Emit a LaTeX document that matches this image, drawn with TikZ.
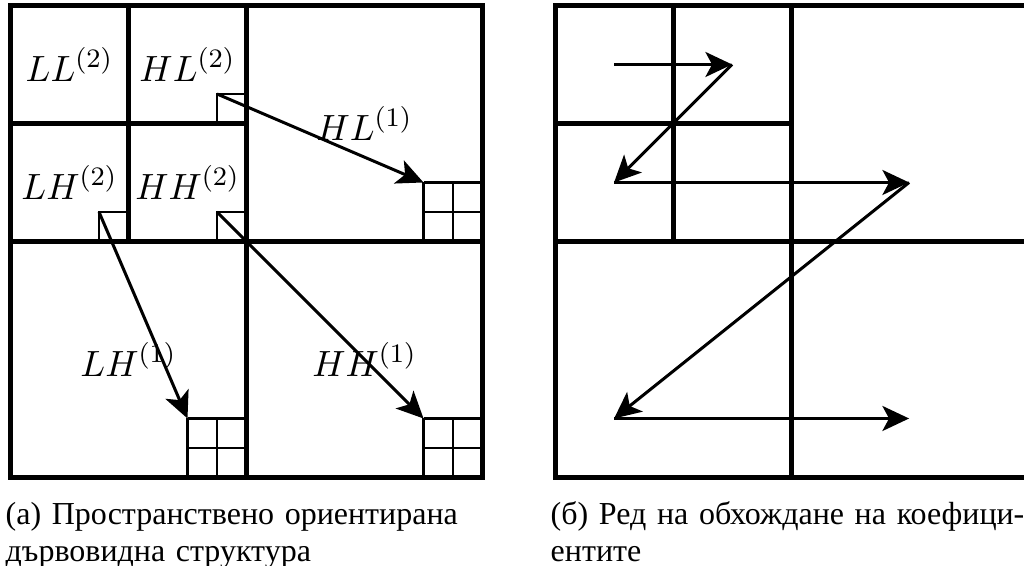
\documentclass[tikz,border=0pt]{standalone}
\usepackage{amsmath,amssymb}
\usepackage{fontspec}
\newfontfamily\cyrfont{Liberation Serif}
\usepackage{tikz}
\usetikzlibrary{arrows.meta,positioning}
\newcommand{\capfont}{\cyrfont\fontsize{9.6}{11}\selectfont}
\newcommand{\capwd}{144.6pt}

\begin{document}
\begin{tikzpicture}[x=8.85pt,y=8.85pt,>={Stealth[length=8pt,width=7.5pt,inset=2pt]},
  band/.style={line width=1.5pt},
  cellbox/.style={line width=0.8pt},
  scan/.style={->,line width=0.9pt},
  lbl/.style={font=\fontsize{11}{13}\selectfont,inner sep=0pt},
  capnode/.style={anchor=base west,inner sep=0pt,text width=\capwd,align=left,font=\capfont}]
\useasboundingbox (-0.356,-3.0) rectangle (34.356,16.186);
% coefficient boxes and 2x2 blocks
\draw[cellbox] (7,12) rectangle (8,13) (3,8) rectangle (4,9) (7,8) rectangle (8,9);
\foreach \gx/\gy in {14/8,6/0,14/0}
  \draw[cellbox,step=1] (\gx,\gy) grid +(2,2);
% two-level split, both panels
\foreach \px in {0,18.46}{
  \draw[band] (\px,0) rectangle +(16,16);
  \draw[band] (\px+8,0) -- +(0,16) (\px,8) -- +(16,0) (\px+4,8) -- +(0,8) (\px,12) -- +(8,0);
}
\node[lbl] (ll2) at (2,14) {$LL^{(2)}$};
\node[lbl] (hl2) at (6,14) {$HL^{(2)}$};
\node[lbl] (lh2) at (2,10) {$LH^{(2)}$};
\node[lbl] (hh2) at (6,10) {$HH^{(2)}$};
\node[lbl] (hl1) at (12,12) {$HL^{(1)}$};
\node[lbl] (lh1) at (4,4) {$LH^{(1)}$};
\node[lbl] (hh1) at (12,4) {$HH^{(1)}$};
% parent -> children
\coordinate (hlsrc) at (7,13);
\coordinate (lhsrc) at (3,9);
\coordinate (hhsrc) at (7,9);
\coordinate (hldst) at (14,10);
\coordinate (lhdst) at (6,2);
\coordinate (hhdst) at (14,2);
\draw[scan] (hlsrc) -- (hldst);
\draw[scan] (lhsrc) -- (lhdst);
\draw[scan] (hhsrc) -- (hhdst);
% scan order
\foreach \n/\rx/\ry in {1/2/14,2/6/14,3/2/10,4/12/10,5/2/2,6/12/2}
  \coordinate (z\n) at (18.46+\rx,\ry);
\foreach \a/\b in {1/2,2/3,3/4,4/5,5/6}
  \draw[scan] (z\a) -- (z\b);
\node[capnode] (capa) at (-0.186,-1.61) {\makebox[\capwd][s]{(а) Пространствено ориентирана}\\дървовидна структура};
\node[capnode] (capb) at (18.29,-1.61) {\makebox[141pt][s]{(б) Ред на обхождане на коефици-}\\ентите};
\end{tikzpicture}
\end{document}
